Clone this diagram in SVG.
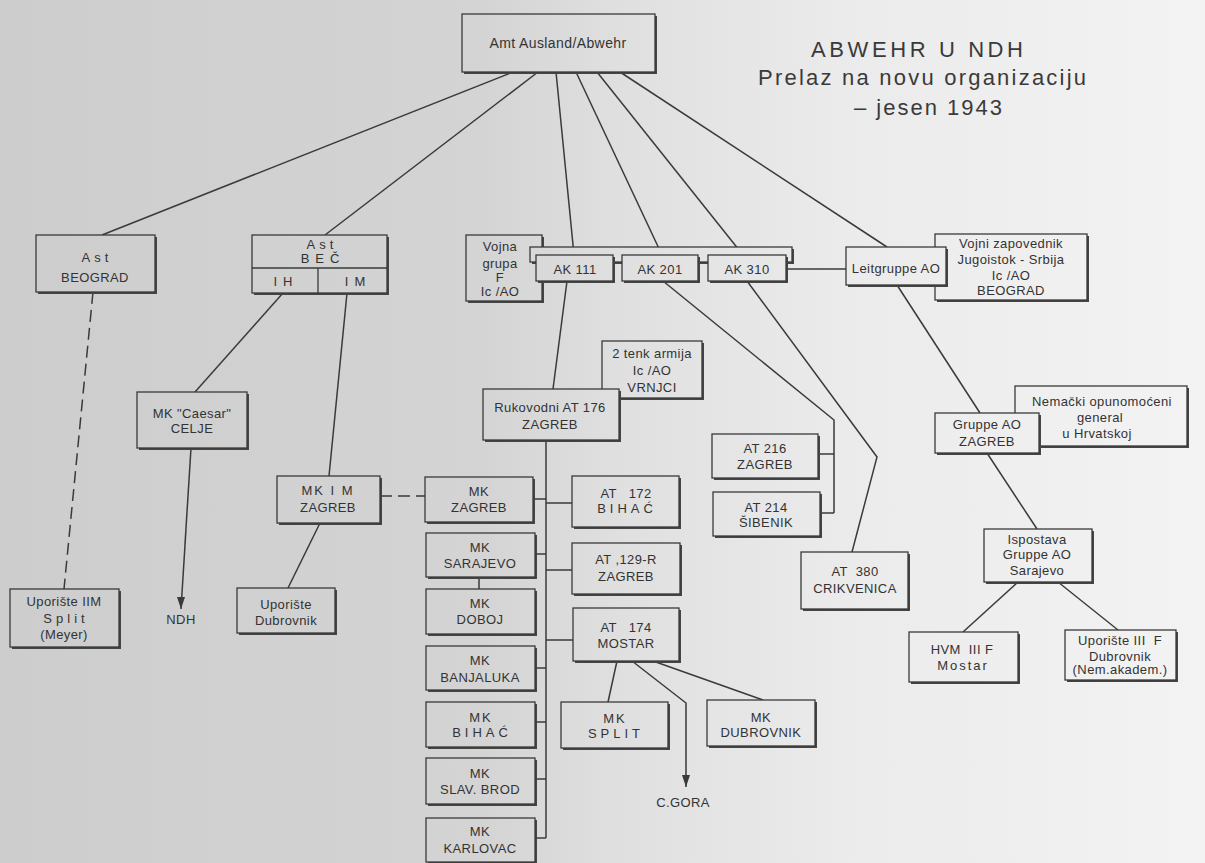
<svg xmlns="http://www.w3.org/2000/svg" width="1205" height="863" viewBox="0 0 1205 863">
<defs>
<linearGradient id="bg" gradientUnits="userSpaceOnUse" x1="0" y1="0" x2="1205" y2="0">
<stop offset="0" stop-color="#cdcdcd"/>
<stop offset="0.4" stop-color="#d4d4d4"/>
<stop offset="0.52" stop-color="#e0e0e0"/>
<stop offset="0.7" stop-color="#ebebeb"/>
<stop offset="1" stop-color="#f3f3f3"/>
</linearGradient>
<marker id="arrd" markerUnits="userSpaceOnUse" markerWidth="8" markerHeight="12" refX="4" refY="12" orient="0" viewBox="0 0 8 12">
<path d="M0,0 L4,12 L8,0 Z" fill="#3a3a3a"/>
</marker>
</defs>
<style>
.b{fill:url(#bg);stroke:#3a3a3a;stroke-width:1.3}
.s{fill:#454545}
.t{font-family:"Liberation Sans",Arial,sans-serif;font-size:13px;fill:#333;text-anchor:middle;letter-spacing:0.4px}
.sp{letter-spacing:4px}
.sp2{letter-spacing:6px}
.ti{font-family:"Liberation Sans",Arial,sans-serif;font-size:22px;fill:#3a3a3a;text-anchor:middle}
.ln{stroke:#3a3a3a;stroke-width:1.5;fill:none}
.ds{stroke-dasharray:12 6}
</style>
<rect x="0" y="0" width="1205" height="863" fill="url(#bg)"/>

<g id="title">
<text class="ti" x="917" y="57" textLength="212" lengthAdjust="spacing">ABWEHR U NDH</text>
<text class="ti" x="922" y="85" textLength="328" lengthAdjust="spacing">Prelaz na novu organizaciju</text>
<text class="ti" x="928" y="115" textLength="148" lengthAdjust="spacing">– jesen 1943</text>
</g>

<g id="connectors">
<line class="ln" x1="513" y1="72" x2="102" y2="235"/>
<line class="ln" x1="538" y1="72" x2="325" y2="235"/>
<line class="ln" x1="556" y1="72" x2="574" y2="255"/>
<line class="ln" x1="576" y1="72" x2="662" y2="255"/>
<line class="ln" x1="597" y1="72" x2="743" y2="255"/>
<line class="ln" x1="620" y1="72" x2="887" y2="247"/>
<line class="ln ds" x1="93" y1="292" x2="64" y2="589"/>
<line class="ln" x1="283" y1="293" x2="195" y2="392"/>
<line class="ln" x1="347" y1="293" x2="329" y2="476"/>
<line class="ln" x1="191" y1="448" x2="181" y2="609" marker-end="url(#arrd)"/>
<line class="ln" x1="320" y1="523" x2="288" y2="588"/>
<line class="ln ds" x1="380" y1="496" x2="425" y2="496"/>
<line class="ln" x1="567" y1="281" x2="553" y2="389"/>
<polyline class="ln" points="663,281 834,420 834,513"/>
<line class="ln" x1="818" y1="454" x2="834" y2="454"/>
<line class="ln" x1="820" y1="513" x2="834" y2="513"/>
<polyline class="ln" points="747,281 877,457 852,552"/>
<line class="ln" x1="786" y1="269" x2="846" y2="269"/>
<line class="ln" x1="897" y1="285" x2="980" y2="413"/>
<line class="ln" x1="987" y1="453" x2="1037" y2="529"/>
<line class="ln" x1="1018" y1="582" x2="963" y2="632"/>
<line class="ln" x1="1058" y1="582" x2="1118" y2="630"/>
<line class="ln" x1="546" y1="440" x2="546" y2="838"/>
<line class="ln" x1="533" y1="499" x2="546" y2="499"/>
<line class="ln" x1="535" y1="554" x2="546" y2="554"/>
<line class="ln" x1="535" y1="668" x2="546" y2="668"/>
<line class="ln" x1="535" y1="722" x2="546" y2="722"/>
<line class="ln" x1="535" y1="779" x2="546" y2="779"/>
<line class="ln" x1="535" y1="838" x2="546" y2="838"/>
<line class="ln" x1="546" y1="503" x2="572" y2="503"/>
<line class="ln" x1="546" y1="570" x2="572" y2="570"/>
<line class="ln" x1="546" y1="640" x2="573" y2="640"/>
<line class="ln" x1="479" y1="577" x2="479" y2="589"/>
<line class="ln" x1="617" y1="661" x2="608" y2="702"/>
<polyline class="ln" points="632,661 686,703 686,787" marker-end="url(#arrd)"/>
<line class="ln" x1="653" y1="661" x2="763" y2="700"/>
</g>

<g id="n-amt"><rect class="s" x="464" y="16" width="193" height="58"/><rect class="b" x="462" y="14" width="193" height="58"/>
<text class="t" x="558" y="48" style="font-size:14px">Amt Ausland/Abwehr</text></g>

<g id="n-ast-beograd"><rect class="s" x="38" y="237" width="119" height="57"/><rect class="b" x="36" y="235" width="119" height="57"/>
<text class="t sp" x="97" y="262">Ast</text><text class="t" x="95" y="282">BEOGRAD</text></g>

<g id="n-ast-bec"><rect class="s" x="254" y="237" width="135" height="58"/><rect class="b" x="252" y="235" width="135" height="58"/>
<line class="ln" x1="252" y1="268" x2="387" y2="268" style="stroke-width:1.3"/><line class="ln" x1="318" y1="268" x2="318" y2="293" style="stroke-width:1.3"/>
<text class="t sp" x="322" y="249">Ast</text><text class="t sp2" x="323" y="263">BEČ</text>
<text class="t sp2" x="286" y="286">IH</text><text class="t sp2" x="358" y="286">IM</text></g>

<g id="n-vojna-grupa"><rect class="s" x="468" y="237" width="76" height="66"/><rect class="b" x="466" y="235" width="76" height="66"/>
<text class="t" x="500" y="250.5">Vojna</text><text class="t" x="500" y="267.5">grupa</text><text class="t" x="500" y="281.5">F</text><text class="t" x="500" y="295.5">Ic /AO</text></g>

<g id="n-ak-frame"><rect class="s" x="532" y="249" width="262" height="15"/><rect class="b" x="530" y="247" width="262" height="15"/></g>

<g id="n-ak111"><rect class="s" x="538" y="257" width="77" height="26"/><rect class="b" x="536" y="255" width="77" height="26"/>
<text class="t" x="575" y="273.5">AK 111</text></g>
<g id="n-ak201"><rect class="s" x="624" y="257" width="76" height="26"/><rect class="b" x="622" y="255" width="76" height="26"/>
<text class="t" x="660" y="273.5">AK 201</text></g>
<g id="n-ak310"><rect class="s" x="710" y="257" width="78" height="26"/><rect class="b" x="708" y="255" width="78" height="26"/>
<text class="t" x="747" y="273.5">AK 310</text></g>

<g id="n-vojni-zapovednik"><rect class="s" x="937" y="236" width="152" height="66"/><rect class="b" x="935" y="234" width="152" height="66"/>
<text class="t" x="1011" y="247.5">Vojni zapovednik</text><text class="t" x="1011" y="263.5">Jugoistok - Srbija</text><text class="t" x="1011" y="279.5">Ic /AO</text><text class="t" x="1011" y="294.5">BEOGRAD</text></g>

<g id="n-leitgruppe"><rect class="s" x="848" y="249" width="100" height="38"/><rect class="b" x="846" y="247" width="100" height="38"/>
<text class="t" x="896" y="272.5">Leitgruppe AO</text></g>

<g id="n-2tenk"><rect class="s" x="604" y="343" width="100" height="57"/><rect class="b" x="602" y="341" width="100" height="57"/>
<text class="t" x="652" y="357.5">2 tenk armija</text><text class="t" x="652" y="374.5">Ic /AO</text><text class="t" x="652" y="391.5">VRNJCI</text></g>

<g id="n-rukovodni"><rect class="s" x="485" y="391" width="136" height="51"/><rect class="b" x="483" y="389" width="136" height="51"/>
<text class="t" x="550" y="411.5">Rukovodni AT 176</text><text class="t" x="550" y="428.5">ZAGREB</text></g>

<g id="n-mk-caesar"><rect class="s" x="139" y="394" width="110" height="56"/><rect class="b" x="137" y="392" width="110" height="56"/>
<text class="t" x="192" y="417.5">MK "Caesar"</text><text class="t" x="192" y="432.5">CELJE</text></g>

<g id="n-mk-im"><rect class="s" x="279" y="478" width="103" height="47"/><rect class="b" x="277" y="476" width="103" height="47"/>
<text class="t" x="328" y="494.5" style="letter-spacing:2px">MK I M</text><text class="t" x="328" y="511.5">ZAGREB</text></g>

<g id="n-mk-zagreb"><rect class="s" x="427" y="479" width="108" height="45"/><rect class="b" x="425" y="477" width="108" height="45"/>
<text class="t" x="479" y="495.5">MK</text><text class="t" x="479" y="511.5">ZAGREB</text></g>
<g id="n-mk-sarajevo"><rect class="s" x="428" y="535" width="109" height="44"/><rect class="b" x="426" y="533" width="109" height="44"/>
<text class="t" x="480" y="551.5">MK</text><text class="t" x="480" y="567.5">SARAJEVO</text></g>
<g id="n-mk-doboj"><rect class="s" x="428" y="591" width="109" height="45"/><rect class="b" x="426" y="589" width="109" height="45"/>
<text class="t" x="480" y="607.5">MK</text><text class="t" x="480" y="623.5">DOBOJ</text></g>
<g id="n-mk-banjaluka"><rect class="s" x="428" y="648" width="109" height="44"/><rect class="b" x="426" y="646" width="109" height="44"/>
<text class="t" x="480" y="664.5">MK</text><text class="t" x="480" y="681.5">BANJALUKA</text></g>
<g id="n-mk-bihac"><rect class="s" x="428" y="704" width="109" height="45"/><rect class="b" x="426" y="702" width="109" height="45"/>
<text class="t" x="481" y="721.5" style="letter-spacing:2px">MK</text><text class="t sp" x="482" y="736.5">BIHAĆ</text></g>
<g id="n-mk-slavbrod"><rect class="s" x="428" y="760" width="109" height="46"/><rect class="b" x="426" y="758" width="109" height="46"/>
<text class="t" x="480" y="777.5">MK</text><text class="t" x="480" y="793.5">SLAV. BROD</text></g>
<g id="n-mk-karlovac"><rect class="s" x="428" y="820" width="109" height="44"/><rect class="b" x="426" y="818" width="109" height="44"/>
<text class="t" x="480" y="835.5">MK</text><text class="t" x="480" y="852.5">KARLOVAC</text></g>

<g id="n-at172"><rect class="s" x="574" y="478" width="107" height="51"/><rect class="b" x="572" y="476" width="107" height="51"/>
<text class="t" x="626" y="497.5" style="white-space:pre">AT   172</text><text class="t sp" x="627" y="512.5">BIHAĆ</text></g>
<g id="n-at129"><rect class="s" x="574" y="545" width="108" height="51"/><rect class="b" x="572" y="543" width="108" height="51"/>
<text class="t" x="626" y="563.5">AT ,129-R</text><text class="t" x="626" y="580.5">ZAGREB</text></g>
<g id="n-at174"><rect class="s" x="575" y="610" width="106" height="53"/><rect class="b" x="573" y="608" width="106" height="53"/>
<text class="t" x="626" y="631.5" style="white-space:pre">AT   174</text><text class="t" x="626" y="647.5">MOSTAR</text></g>

<g id="n-mk-split"><rect class="s" x="563" y="704" width="107" height="46"/><rect class="b" x="561" y="702" width="107" height="46"/>
<text class="t" x="615" y="722.5" style="letter-spacing:2px">MK</text><text class="t sp" x="616" y="737.5">SPLIT</text></g>
<g id="n-mk-dubrovnik"><rect class="s" x="709" y="702" width="108" height="46"/><rect class="b" x="707" y="700" width="108" height="46"/>
<text class="t" x="761" y="721.5">MK</text><text class="t" x="761" y="736.5">DUBROVNIK</text></g>

<g id="n-cgora"><text class="t" x="683" y="806.5">C.GORA</text></g>

<g id="n-at216"><rect class="s" x="714" y="436" width="106" height="44"/><rect class="b" x="712" y="434" width="106" height="44"/>
<text class="t" x="765" y="452.5">AT 216</text><text class="t" x="765" y="468.5">ZAGREB</text></g>
<g id="n-at214"><rect class="s" x="715" y="494" width="107" height="44"/><rect class="b" x="713" y="492" width="107" height="44"/>
<text class="t" x="766" y="511.5">AT 214</text><text class="t" x="766" y="526.5">ŠIBENIK</text></g>
<g id="n-at380"><rect class="s" x="803" y="554" width="107" height="57"/><rect class="b" x="801" y="552" width="107" height="57"/>
<text class="t" x="855" y="575.5" style="white-space:pre">AT  380</text><text class="t" x="855" y="592.5">CRIKVENICA</text></g>

<g id="n-nemacki"><rect class="s" x="1017" y="388" width="172" height="60"/><rect class="b" x="1015" y="386" width="172" height="60"/>
<text class="t" x="1102" y="405.5">Nemački opunomoćeni</text><text class="t" x="1100" y="421.5">general</text><text class="t" x="1097" y="437.5">u  Hrvatskoj</text></g>
<g id="n-gruppe-ao"><rect class="s" x="937" y="415" width="104" height="40"/><rect class="b" x="935" y="413" width="104" height="40"/>
<text class="t" x="987" y="428.5">Gruppe AO</text><text class="t" x="987" y="445.5">ZAGREB</text></g>

<g id="n-ispostava"><rect class="s" x="986" y="531" width="108" height="53"/><rect class="b" x="984" y="529" width="108" height="53"/>
<text class="t" x="1037" y="543.5">Ispostava</text><text class="t" x="1037" y="558.5">Gruppe AO</text><text class="t" x="1037" y="574.5">Sarajevo</text></g>
<g id="n-hvm"><rect class="s" x="911" y="634" width="109" height="50"/><rect class="b" x="909" y="632" width="109" height="50"/>
<text class="t" x="962" y="653.5" style="white-space:pre">HVM  III F</text><text class="t" x="963" y="669.5" style="letter-spacing:2px">Mostar</text></g>
<g id="n-uporiste-3f"><rect class="s" x="1067" y="632" width="111" height="50"/><rect class="b" x="1065" y="630" width="111" height="50"/>
<text class="t" x="1120" y="644.5" style="white-space:pre">Uporište III  F</text><text class="t" x="1120" y="660.5">Dubrovnik</text><text class="t" x="1120" y="673.5">(Nem.akadem.)</text></g>

<g id="n-uporiste-split"><rect class="s" x="12" y="591" width="109" height="58"/><rect class="b" x="10" y="589" width="109" height="58"/>
<text class="t" x="64" y="605.5">Uporište IIM</text><text class="t sp" x="66" y="622.5">Split</text><text class="t" x="64" y="638.5">(Meyer)</text></g>
<g id="n-ndh"><text class="t" x="181" y="624">NDH</text></g>
<g id="n-uporiste-dubrovnik"><rect class="s" x="239" y="590" width="98" height="45"/><rect class="b" x="237" y="588" width="98" height="45"/>
<text class="t" x="286" y="608.5">Uporište</text><text class="t" x="286" y="624.5">Dubrovnik</text></g>
</svg>
